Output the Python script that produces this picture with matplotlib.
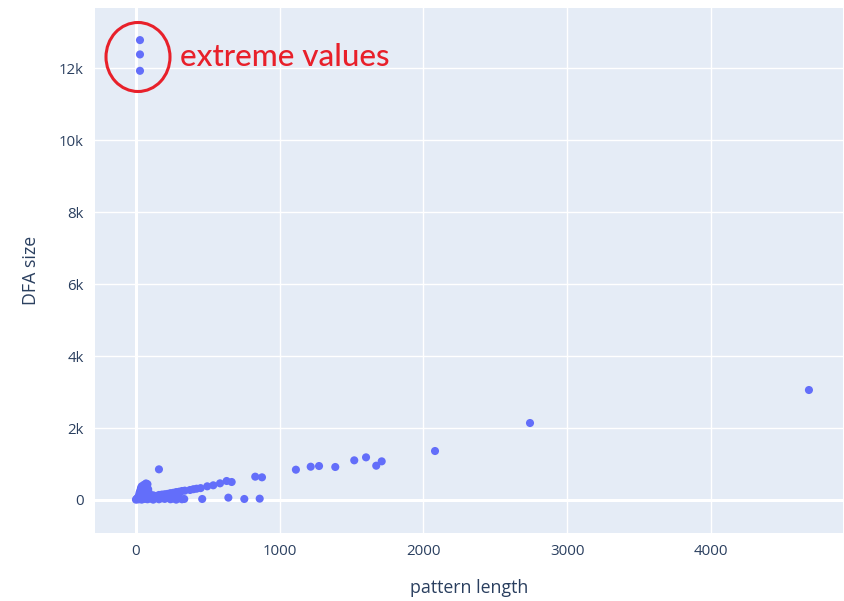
import matplotlib.pyplot as plt
from matplotlib.patches import Ellipse

# pattern length vs DFA size
pattern_length = [
    # stack near the origin
    10, 15, 20, 25, 30, 35, 40, 45, 55, 60, 70, 75, 80, 85, 90, 65, 50,
    # bottom row
    0, 5, 10, 20, 30, 40, 50, 60, 80, 100, 120, 140, 160, 180, 200, 220,
    240, 260, 280, 300, 320, 336,
    # rising band
    100, 120, 140, 160, 180, 200, 220, 240, 260, 280, 300, 320, 340, 376,
    400, 422, 450, 496, 538, 585, 631, 666,
    # scattered
    160, 461, 643, 754, 861, 830, 877,
    1113, 1216, 1274, 1387, 1519, 1601, 1672, 1710,
    2081, 2742, 4683,
    # extremes
    28, 28, 28,
]
dfa_size = [
    20, 60, 120, 200, 260, 330, 380, 300, 420, 350, 460, 400, 440, 300, 200, 150, 100,
    10, 30, 50, 20, 40, 10, 60, 30, 20, 40, 10, 60, 20, 50, 30, 60,
    20, 40, 10, 50, 20, 28,
    110, 130, 110, 140, 150, 160, 170, 190, 200, 220, 230, 250, 260, 278,
    300, 314, 330, 380, 408, 463, 528, 500,
    852, 28, 65, 28, 37, 648, 630,
    842, 925, 944, 917, 1102, 1185, 953, 1074,
    1361, 2139, 3056,
    12778, 12380, 11925,
]

x_ticks = [0, 1000, 2000, 3000, 4000]
y_ticks = [0, 2000, 4000, 6000, 8000, 10000, 12000]
y_tick_labels = ['0', '2k', '4k', '6k', '8k', '10k', '12k']

plt.rcParams['font.family'] = ['Open Sans', 'DejaVu Sans']

fig = plt.figure(figsize=(8.44, 6.01), dpi=100)
ax = fig.add_axes([95 / 844, 68 / 601, 748 / 844, 525 / 601])
ax.set_facecolor('#e5ecf6')

ax.scatter(pattern_length, dfa_size, s=34, color='#636efa', edgecolors='none', zorder=3)

ax.set_xlim(-285, 4920)
ax.set_ylim(-917, 13670)
ax.set_xticks(x_ticks)
ax.set_yticks(y_ticks)
ax.set_yticklabels(y_tick_labels)
ax.grid(True, color='white', linewidth=1.0)
ax.set_axisbelow(True)
ax.axhline(0, color='white', linewidth=2.2, zorder=1)
ax.axvline(0, color='white', linewidth=2.2, zorder=1)
for s in ax.spines.values():
    s.set_visible(False)
ax.tick_params(length=0, labelsize=10.8, labelcolor='#2a3f5f', pad=8)
ax.set_xlabel('pattern length', fontsize=12.8, color='#2a3f5f', labelpad=14)
ax.set_ylabel('DFA size', fontsize=12.8, color='#2a3f5f', labelpad=14)

# red annotation, placed in pixel terms of the reference
inv = ax.transData.inverted()
cx, cy = inv.transform((138, 601 - 57))
x_per_px = (4920 + 285) / ax.bbox.width
y_per_px = (13670 + 917) / ax.bbox.height
ax.add_patch(Ellipse((cx, cy), 64 * x_per_px, 69 * y_per_px,
                     fill=False, edgecolor='#e8202a', linewidth=2.2, zorder=4))
tx, ty = inv.transform((180, 601 - 57))
ax.text(tx, ty, 'extreme values', color='#e8202a', fontsize=22.6, family='Lato',
        fontweight='medium', va='center', ha='left', zorder=4)

fig.savefig('out.png', dpi=100)
